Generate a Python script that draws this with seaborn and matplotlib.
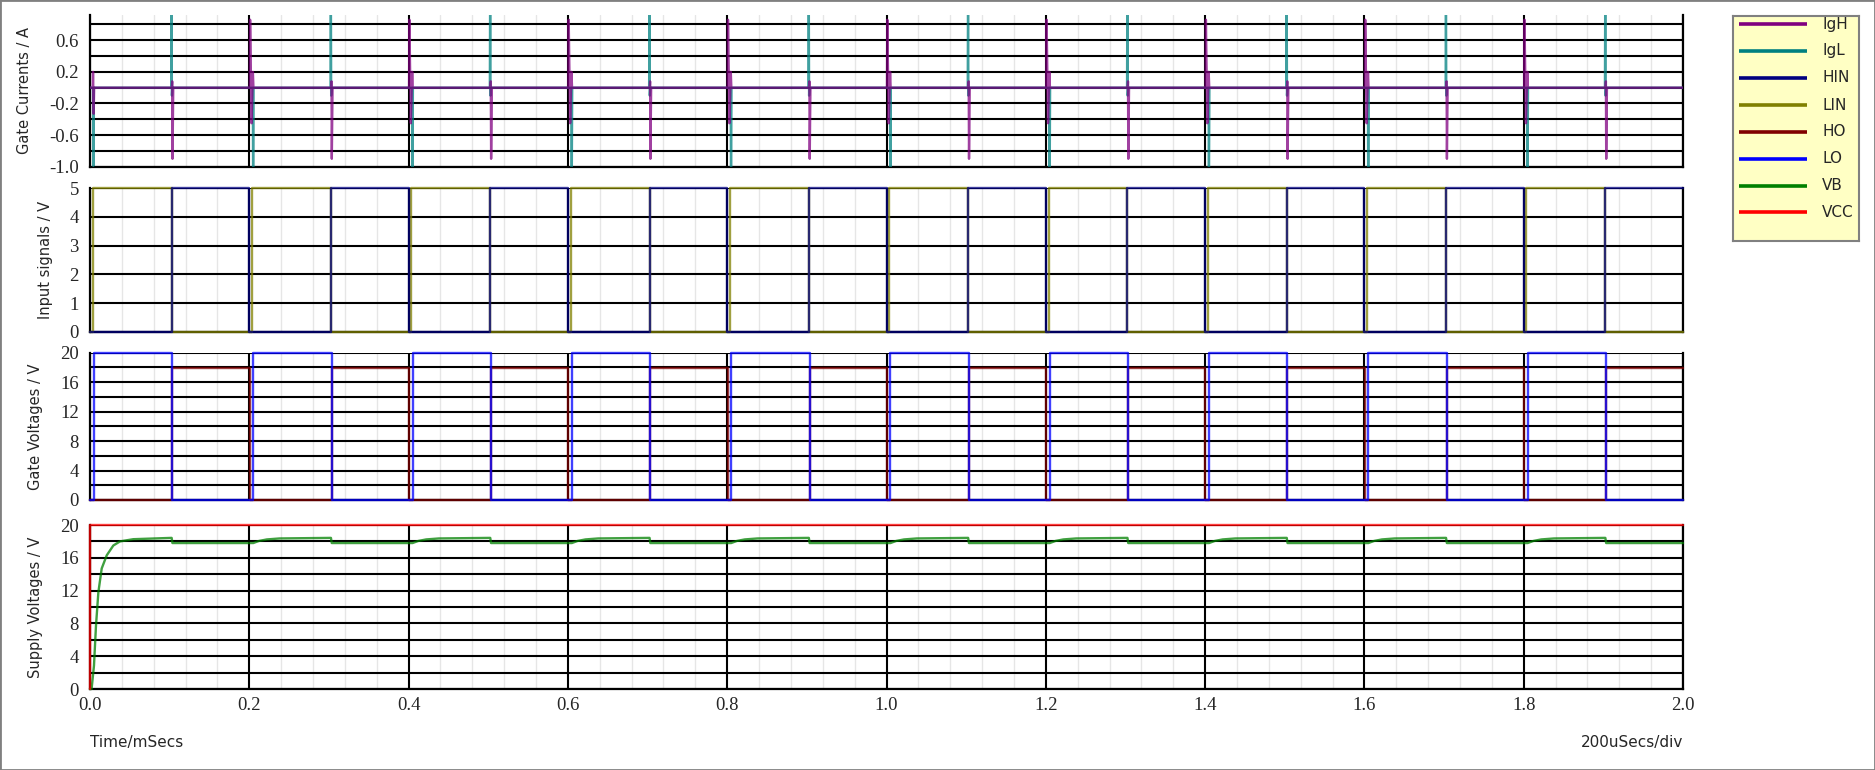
import numpy as np
import pandas as pd
import matplotlib
matplotlib.use("Agg")
import matplotlib.pyplot as plt
from matplotlib.patches import Rectangle
from matplotlib.ticker import MultipleLocator, FormatStrFormatter
import seaborn as sns

sns.set_style("white")
plt.rcParams['font.family'] = ['DejaVu Sans']
plt.rcParams['axes.unicode_minus'] = False

# ---- data (time in ms) ----
cycle_starts = [0.0, 0.2, 0.4, 0.6, 0.8, 1.0, 1.2, 1.4, 1.6, 1.8]

# gate currents, first cycle and repeating cycle (relative time)
igh_first_t = [0.0, 0.0035, 0.0038, 0.0046, 0.0052, 0.1028, 0.1032, 0.1036, 0.1045, 0.2]
igh_first_v = [0.0, 0.0, 0.2, -0.33, 0.0, 0.0, 0.08, -0.9, 0.0, 0.0]
igh_cyc_t = [0.0, 0.0006, 0.0010, 0.0028, 0.0045, 0.0052, 0.1028, 0.1032, 0.1036, 0.1045, 0.2]
igh_cyc_v = [0.0, 0.0, 0.86, -0.45, 0.2, 0.0, 0.0, 0.08, -0.9, 0.0, 0.0]

igl_first_t = [0.0, 0.0038, 0.0042, 0.0048, 0.1020, 0.1024, 0.1028, 0.1034, 0.2]
igl_first_v = [0.0, 0.0, -0.99, 0.0, 0.0, 1.3, -0.1, 0.0, 0.0]
igl_cyc_t = [0.0, 0.0044, 0.0048, 0.0054, 0.1020, 0.1024, 0.1028, 0.1034, 0.2]
igl_cyc_v = [0.0, 0.0, -1.3, 0.0, 0.0, 1.3, -0.1, 0.0, 0.0]

# input signals
hin_t = [0.0, 0.1025, 0.1025, 0.2]
hin_v = [0.0, 0.0, 5.0, 5.0]
lin_t = [0.0, 0.0035, 0.0035, 0.1025, 0.1025, 0.2]
lin_v = [0.0, 0.0, 5.0, 5.0, 0.0, 0.0]

# gate voltages
ho_t = [0.0005, 0.1034, 0.1034, 0.2005]
ho_v = [0.0, 0.0, 17.9, 17.9]
lo_t = [0.0, 0.005, 0.005, 0.1034, 0.1034, 0.2]
lo_v = [0.0, 0.0, 20.0, 20.0, 0.0, 0.0]

# supply voltages
vb_first_t = [0.0, 0.002, 0.005, 0.0075, 0.0105, 0.0147, 0.021, 0.0293, 0.0377,
              0.0544, 0.1025, 0.1035, 0.2]
vb_first_v = [0.0, 0.0, 2.85, 7.7, 11.8, 14.7, 16.3, 17.5, 18.0,
              18.27, 18.43, 17.8, 17.8]
vb_cyc_t = [0.0, 0.005, 0.012, 0.022, 0.038, 0.1025, 0.1035, 0.2]
vb_cyc_v = [17.8, 17.8, 18.05, 18.24, 18.36, 18.43, 17.8, 17.8]
vcc_t = [0.0, 0.0, 2.0]
vcc_v = [0.0, 20.0, 20.0]

names = ["IgH", "IgL", "HIN", "LIN", "HO", "LO", "VB", "VCC"]
colors = ["#800080", "#008080", "#000080", "#808000", "#800000", "#0000FF", "#008000", "#FF0000"]
col = dict(zip(names, colors))


def build(rel_t, rel_v, first_t=None, first_v=None):
    ts, vs = [], []
    for i, c in enumerate(cycle_starts):
        if i == 0 and first_t is not None:
            tt, vv = first_t, first_v
        else:
            tt, vv = rel_t, rel_v
        ts += [c + t for t in tt]
        vs += list(vv)
    return pd.DataFrame({"t": ts, "v": vs})


W, H = 1875, 770
fig = plt.figure(figsize=(W / 100, H / 100), dpi=100)

left, right = 90, 1683
panels = [(15, 166.7), (188.3, 331.7), (352.7, 500), (525, 689)]
axes = []
for top, bot in panels:
    ax = fig.add_axes([left / W, 1 - bot / H, (right - left) / W, (bot - top) / H])
    axes.append(ax)

lw = 1.7
alpha = 0.75


def trace(ax, df, name, clip=True):
    sns.lineplot(data=df, x="t", y="v", ax=ax, estimator=None, sort=False,
                 color=col[name], lw=lw, alpha=alpha, legend=False,
                 clip_on=clip, zorder=3)


ax1, ax2, ax3, ax4 = axes
trace(ax1, build(igl_cyc_t, igl_cyc_v, igl_first_t, igl_first_v), "IgL")
trace(ax1, build(igh_cyc_t, igh_cyc_v, igh_first_t, igh_first_v), "IgH")
trace(ax2, build(lin_t, lin_v), "LIN", clip=False)
trace(ax2, build(hin_t, hin_v), "HIN", clip=False)
trace(ax3, build(ho_t, ho_v), "HO", clip=False)
trace(ax3, build(lo_t, lo_v), "LO", clip=False)
trace(ax4, build(vb_cyc_t, vb_cyc_v, vb_first_t, vb_first_v), "VB", clip=False)
trace(ax4, pd.DataFrame({"t": vcc_t, "v": vcc_v}), "VCC", clip=False)

ylims = [(-1.0, 0.92), (0, 5), (0, 20), (0, 20)]
ymajor = [0.4, 1, 4, 4]
yminor = [0.2, 1, 2, 2]
yfmt = ["%.1f", "%d", "%d", "%d"]
ylabels = ["Gate Currents / A", "Input signals / V", "Gate Voltages / V", "Supply Voltages / V"]

for i, ax in enumerate(axes):
    ax.set_xlim(0, 2.0)
    ax.set_ylim(*ylims[i])
    ax.set_axisbelow(True)
    ax.xaxis.set_major_locator(MultipleLocator(0.2))
    ax.xaxis.set_minor_locator(MultipleLocator(0.04))
    if i == 0:
        ax.set_yticks([-1.0, -0.6, -0.2, 0.2, 0.6])
    else:
        ax.yaxis.set_major_locator(MultipleLocator(ymajor[i]))
    ax.yaxis.set_minor_locator(MultipleLocator(yminor[i]))
    ax.yaxis.set_major_formatter(FormatStrFormatter(yfmt[i]))
    ax.grid(which="minor", axis="x", color="#E6E6E6", lw=1.0)
    ax.grid(which="major", axis="x", color="black", lw=1.5)
    ax.grid(which="both", axis="y", color="black", lw=1.5)
    ax.spines["top"].set_visible(False)
    for s in ["left", "bottom", "right"]:
        ax.spines[s].set_color("black")
        ax.spines[s].set_linewidth(1.6)
    ax.tick_params(axis="y", which="both", length=0, pad=8, labelsize=13.5,
                   labelfontfamily="Liberation Serif")
    ax.tick_params(axis="x", which="minor", length=0)
    ax.set_xlabel("")
    ax.set_ylabel(ylabels[i], fontsize=10.5, labelpad=12)
    if i < 3:
        ax.tick_params(axis="x", which="major", length=0, labelbottom=False)
    else:
        ax.tick_params(axis="x", which="major", length=4, width=1.5, pad=2,
                       labelsize=13.5, labelfontfamily="Liberation Serif")
        ax.xaxis.set_major_formatter(FormatStrFormatter("%.1f"))

fig.text(left / W, 1 - 743 / H, "Time/mSecs", fontsize=11, ha="left", va="center")
fig.text(right / W, 1 - 743 / H, "200uSecs/div", fontsize=11, ha="right", va="center")

# legend box
lx0, lx1, ly0, ly1 = 1733, 1859, 15.7, 240.7
lax = fig.add_axes([lx0 / W, 1 - ly1 / H, (lx1 - lx0) / W, (ly1 - ly0) / H])
lax.set_xlim(lx0, lx1)
lax.set_ylim(ly1, ly0)
lax.set_facecolor("#FFFFC4")
lax.set_xticks([])
lax.set_yticks([])
for s in lax.spines.values():
    s.set_color("#808080")
    s.set_linewidth(1.5)
rows = [24, 50.7, 77.7, 105, 131.7, 159, 185.7, 212.3]
for name, y in zip(names, rows):
    lax.plot([1739, 1807], [y, y], color=col[name], lw=2.6, solid_capstyle="butt")
    lax.text(1822, y, name, fontsize=11, va="center", ha="left")

fig.add_artist(Rectangle((0, 0), 1, 1, transform=fig.transFigure, fill=False,
                         edgecolor="#808080", lw=2))

fig.savefig("out.png", dpi=100, facecolor="white")
